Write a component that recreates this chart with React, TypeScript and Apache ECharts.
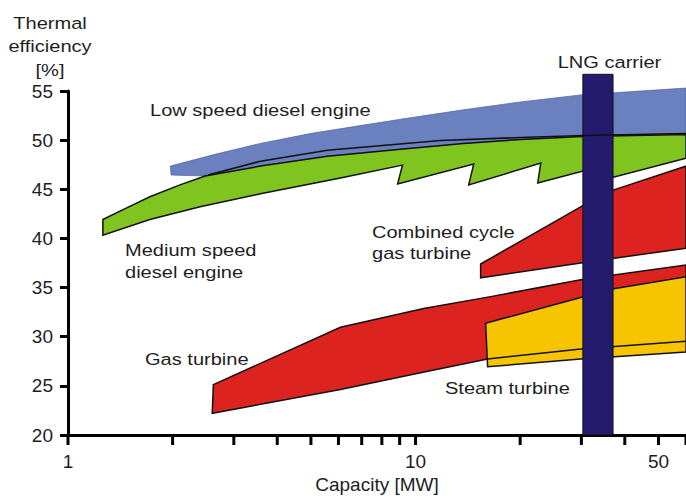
import React, { useEffect, useRef } from "react";
import * as echarts from "echarts";

// ---- axes ----
const xMin = 1;
const xMax = 60;
const yMin = 20;
const yMax = 55;
const yStep = 5;
const xTickValues = [1, 2, 3, 4, 5, 6, 7, 8, 9, 10, 20, 30, 40, 50, 60];
const xLabelValues = [1, 10, 50];

// ---- regions: [capacity MW, thermal efficiency %] ----
const lowSpeedDiesel = [
  [1.97, 47.36], [2.65, 48.56], [3.58, 49.67], [4.98, 50.67], [6.94, 51.48],
  [9.67, 52.28], [13.75, 53.09], [20.07, 53.89], [29.89, 54.6], [44.5, 55.0],
  [60, 55.3],
  [60, 50.57], [30.29, 50.37], [20.07, 50.07], [13.75, 49.67], [9.05, 49.07],
  [5.58, 48.36], [3.58, 47.36], [2.48, 46.35], [1.98, 46.45],
];
const lowSpeedDieselLower = [
  [2.53, 46.45], [3.58, 47.86], [5.58, 48.97], [11.8, 49.97], [20.07, 50.27],
  [30.29, 50.47], [60, 50.67],
];
const mediumSpeedDiesel = [
  [1.26, 41.93], [1.46, 43.03], [1.72, 44.24], [2.1, 45.45], [2.48, 46.35],
  [3.58, 47.36], [5.58, 48.36], [9.05, 49.07], [13.75, 49.67], [20.07, 50.07],
  [30.29, 50.37], [60, 50.57],
  [60, 48.16], [34.58, 45.95], [35.28, 47.46], [22.47, 45.65], [22.92, 47.66],
  [14.22, 45.45], [14.7, 47.56], [8.88, 45.55], [9.17, 47.46], [6.08, 46.15],
  [3.58, 44.54], [2.4, 43.23], [1.72, 41.93], [1.26, 40.32],
];
const combinedCycle = [
  [15.39, 37.4], [30.29, 43.33], [37.2, 44.94], [60, 47.36],
  [60, 39.01], [29.89, 37.5], [15.39, 35.99],
];
const gasTurbine = [
  [2.62, 25.13], [6.08, 30.96], [10.55, 32.87], [16.45, 34.08], [29.89, 35.79],
  [37.2, 36.29], [60, 37.3],
  [60, 29.55], [29.89, 28.75], [16.12, 27.74], [10.34, 26.34], [6.08, 24.63],
  [2.6, 22.21],
];
const gasTurbineLower = [[16.12, 27.74], [29.89, 28.75], [60, 29.55]];
const steamTurbine = [
  [15.91, 31.36], [17.93, 31.87], [29.89, 33.98], [37.2, 34.88], [60, 36.09],
  [60, 28.45], [29.89, 27.74], [16.12, 26.94],
];
const lngCarrierRange = [30.3, 37.0];
const lngCarrierTop = 56.7;

const FONT = '"Liberation Sans", Arial, Helvetica, sans-serif';
const SX = 1.18;
const TEXT = "#1e1e1e";

function polygonSeries(name: string, points: number[][], fill: string, stroke: string, lineWidth: number, z: number) {
  return {
    type: "custom",
    name,
    z,
    clip: false,
    silent: true,
    data: points,
    renderItem: (params: any, api: any) => {
      if (params.dataIndex !== 0) return null;
      return {
        type: "polygon",
        shape: { points: points.map((p) => api.coord(p)) },
        style: { fill, stroke, lineWidth, lineJoin: "miter" },
      };
    },
  };
}

function polylineSeries(name: string, points: number[][], stroke: string, lineWidth: number, z: number) {
  return {
    type: "custom",
    name,
    z,
    clip: false,
    silent: true,
    data: points,
    renderItem: (params: any, api: any) => {
      if (params.dataIndex !== 0) return null;
      return {
        type: "polyline",
        shape: { points: points.map((p) => api.coord(p)) },
        style: { fill: null, stroke, lineWidth },
      };
    },
  };
}

function label(text: string, x: number, y: number, align: string, vAlign: string, lineHeight?: number) {
  return {
    type: "text",
    x,
    y,
    scaleX: SX,
    silent: true,
    z: 50,
    style: {
      text,
      font: `17px ${FONT}`,
      fill: TEXT,
      textAlign: align,
      textVerticalAlign: vAlign,
      lineHeight: lineHeight || 20,
    },
  };
}

export default function App() {
  const ref = useRef<HTMLDivElement>(null);
  useEffect(() => {
    document.body.style.margin = "0";
    const chart = echarts.init(ref.current!, null, { renderer: "svg" });
    const option: any = {
      animation: false,
      backgroundColor: "#fff",
      grid: { left: 68, right: 0, top: 91, bottom: 59, containLabel: false },
      xAxis: {
        type: "log",
        logBase: 10,
        min: xMin,
        max: xMax,
        name: "Capacity [MW]",
        nameLocation: "middle",
        nameGap: 40,
        nameTextStyle: { fontSize: 19, color: TEXT, fontFamily: FONT },
        axisLine: { show: true, lineStyle: { color: "#000", width: 3 } },
        axisTick: { show: false },
        axisLabel: { show: false },
        splitLine: { show: false },
        minorTick: { show: false },
      },
      yAxis: {
        type: "value",
        min: yMin,
        max: yMax,
        interval: yStep,
        axisLine: { show: true, lineStyle: { color: "#000", width: 3 } },
        axisTick: { show: true, length: 8, lineStyle: { color: "#000", width: 3 } },
        axisLabel: { margin: 15, fontSize: 19, color: TEXT, fontFamily: FONT },
        splitLine: { show: false },
      },
      series: [
        polygonSeries("Low speed diesel engine", lowSpeedDiesel, "#6a80bf", "#4d5f95", 0.7, 2),
        polygonSeries("Medium speed diesel engine", mediumSpeedDiesel, "#7fc41f", "#111", 1.5, 3),
        polygonSeries("Combined cycle gas turbine", combinedCycle, "#dd2320", "#111", 1.5, 4),
        polygonSeries("Gas turbine", gasTurbine, "#dd2320", "#111", 1.5, 5),
        polygonSeries("Steam turbine", steamTurbine, "#f6c400", "#111", 1.5, 6),
        polylineSeries("Gas turbine lower bound", gasTurbineLower, "#111", 1.5, 7),
        {
          type: "custom",
          name: "LNG carrier",
          z: 8,
          clip: false,
          silent: true,
          data: [[lngCarrierRange[0], yMin, lngCarrierRange[1], lngCarrierTop]],
          renderItem: (params: any, api: any) => {
            const p1 = api.coord([api.value(0), api.value(3)]);
            const p2 = api.coord([api.value(2), api.value(1)]);
            return {
              type: "rect",
              shape: { x: p1[0], y: p1[1], width: p2[0] - p1[0], height: p2[1] - p1[1] },
              style: { fill: "#251b6e", stroke: "#111", lineWidth: 1 },
            };
          },
        },
        polylineSeries("Low speed diesel lower bound", lowSpeedDieselLower, "#111", 1.6, 9),
        {
          type: "custom",
          name: "x ticks",
          z: 10,
          clip: false,
          silent: true,
          data: xTickValues.map((v) => [v, yMin]),
          renderItem: (params: any, api: any) => {
            const p = api.coord([api.value(0), api.value(1)]);
            return {
              type: "line",
              shape: { x1: p[0], y1: p[1], x2: p[0], y2: p[1] + 10 },
              style: { stroke: "#000", lineWidth: 3 },
            };
          },
        },
        {
          type: "custom",
          name: "x labels",
          z: 10,
          clip: false,
          silent: true,
          data: xLabelValues.map((v) => [v, yMin]),
          renderItem: (params: any, api: any) => {
            const v = api.value(0);
            const p = api.coord([v, api.value(1)]);
            return {
              type: "text",
              x: p[0],
              y: p[1] + 26,
              style: {
                text: String(v),
                font: `19px ${FONT}`,
                fill: TEXT,
                textAlign: "center",
                textVerticalAlign: "middle",
              },
            };
          },
        },
      ],
      graphic: [
        label("Thermal\nefficiency\n[%]", 50, 11.25, "center", "top", 23.5),
        label("Low speed diesel engine", 150, 110, "left", "middle"),
        label("Medium speed\ndiesel engine", 125, 239, "left", "top", 22),
        label("Combined cycle\ngas turbine", 372, 221.25, "left", "top", 21.5),
        label("Gas turbine", 145, 359, "left", "middle"),
        label("Steam turbine", 445, 388, "left", "middle"),
        label("LNG carrier", 609.5, 62, "center", "middle"),
      ],
    };
    chart.setOption(option);
    return () => chart.dispose();
  }, []);
  return <div ref={ref} style={{ width: 686, height: 499 }} />;
}
